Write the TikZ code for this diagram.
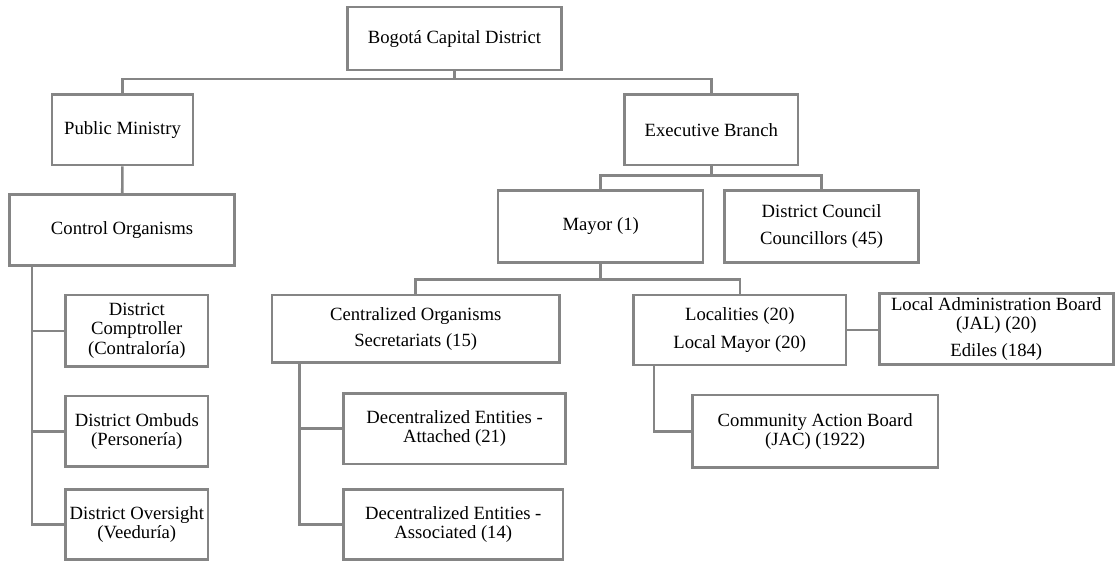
\documentclass[tikz,border=0pt]{standalone}
\usepackage{fontspec}
\setmainfont{Liberation Serif}
\usepackage{xcolor}
\usetikzlibrary{calc}
\definecolor{linegray}{HTML}{858585}

\begin{document}
\begin{tikzpicture}[x=0.75pt,y=-0.75pt,
		orgbox/.style 2 args={draw=linegray,line width=1.9pt,fill=white,align=center,
			minimum width=#1*0.75pt,minimum height=#2*0.75pt,inner sep=0pt,
			font=\fontsize{14}{14.6}\selectfont},
		link/.style={draw=linegray,line width=1.9pt}]
	\useasboundingbox (0,0) rectangle (1115,561);
	% top levels
	\node[orgbox={214}{63}] (dist) at (454.5,38.7) {Bogotá Capital District};
	\node[orgbox={141.4}{70.7}] (pm) at (122.5,129.7) {Public Ministry};
	\node[orgbox={173.3}{70.7}] (exe) at (711.3,129.7) {Executive Branch};
	\node[orgbox={225}{71.4}] (ctrl) at (122.1,230) {Control Organisms};
	\node[orgbox={205}{71.6}] (mayor) at (600.7,226.5) {Mayor (1)};
	\node[orgbox={194}{71.6}] (council) at (821.6,226.5) {District Council\\[5pt]Councillors (45)};
	% control organisms
	\node[orgbox={142.8}{71.7}] (comp) at (136.8,330.8) {District\\Comptroller\\(Contraloría)};
	\node[orgbox={142.8}{70.7}] (omb) at (136.8,431.3) {District Ombuds\\(Personería)};
	\node[orgbox={142.8}{70}] (over) at (136.8,524.3) {District Oversight\\(Veeduría)};
	% mayor
	\node[orgbox={287.2}{67.7}] (cent) at (415.7,328.8) {Centralized Organisms\\[5pt]Secretariats (15)};
	\node[orgbox={222}{70.7}] (att) at (454.6,428.7) {Decentralized Entities -\\Attached (21)};
	\node[orgbox={219.4}{70}] (assoc) at (453.3,524.3) {Decentralized Entities -\\Associated (14)};
	\node[orgbox={212.4}{70}] (loc) at (739.8,330) {Localities (20)\\[6pt]Local Mayor (20)};
	\node[orgbox={234}{71}] (jal) at (996.3,328.8) {Local Administration Board\\(JAL) (20)\\[5pt]Ediles (184)};
	\node[orgbox={245.4}{72.7}] (jac) at (815.2,431.3) {Community Action Board\\(JAC) (1922)};
	% connectors
	\coordinate (j1) at (454.5,79);
	\coordinate (j2) at (711.3,175.7);
	\coordinate (j3) at (600.7,279.3);
	\draw[link] (dist) -- (j1);
	\draw[link] (pm.north) |- (j1) -| (exe.north);
	\draw[link] (pm) -- (ctrl);
	\draw[link] (exe) -- (j2);
	\draw[link] (mayor.north) |- (j2) -| (council.north);
	\draw[link] (mayor) -- (j3);
	\draw[link] (cent.north) |- (j3) -| (loc.north);
	\coordinate (t1) at ($(ctrl.south west)+(23.6,0)$);
	\draw[link] (t1) |- (over.west);
	\draw[link] (t1 |- comp.west) -- (comp.west);
	\draw[link] (t1 |- omb.west) -- (omb.west);
	\coordinate (t2) at ($(cent.south west)+(28.9,0)$);
	\draw[link] (t2) |- (assoc.west);
	\draw[link] (t2 |- att.west) -- (att.west);
	\coordinate (t3) at ($(loc.south west)+(21.8,0)$);
	\draw[link] (t3) |- (jac.west);
	\draw[link] (loc.east) -- (loc.east -| jal.west);
\end{tikzpicture}
\end{document}
